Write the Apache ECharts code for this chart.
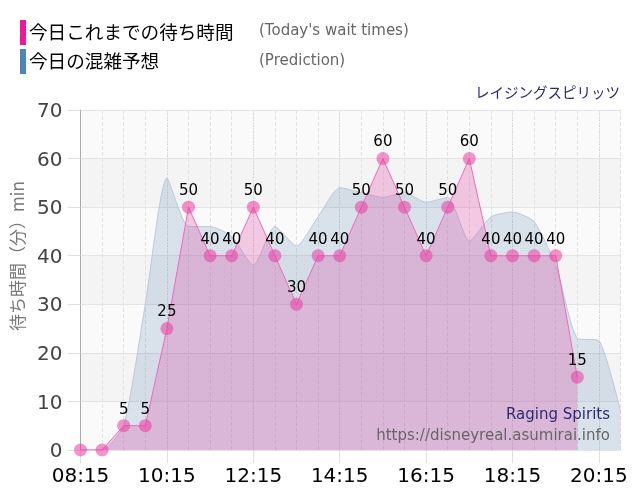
<!DOCTYPE html>
<html>
<head>
<meta charset="utf-8">
<title>待ち時間</title>
<script src="https://cdn.jsdelivr.net/npm/echarts@6/dist/echarts.min.js"></script>
<style>
html,body{margin:0;padding:0;background:#fff;}
#chart{width:640px;height:500px;}
</style>
</head>
<body>
<div id="chart"></div>
<script>
var times = ['08:15','08:45','09:15','09:45','10:15','10:45','11:15','11:45','12:15','12:45','13:15','13:45','14:15','14:45','15:15','15:45','16:15','16:45','17:15','17:45','18:15','18:45','19:15','19:45','20:15','20:45'];
var waitTimes = [0,0,5,5,25,50,40,40,50,40,30,40,40,50,60,50,40,50,60,40,40,40,40,15];
var prediction = [0,0,5,30,56,46,46,44,38,46,42,48,54,53,52,53,51,52,43,48,49,47,38,23,22.5,8];

var chart = echarts.init(document.getElementById('chart'));
var jp = '"Noto Sans CJK JP"';
var dejavu = '"DejaVu Sans"';

function everyFourth(i){ return i % 4 === 0; }

// 予想エリアの細かい点模様
function dotPattern(){
    var c = document.createElement('canvas');
    c.width = 4; c.height = 4;
    var ctx = c.getContext('2d');
    ctx.fillStyle = 'rgba(60,110,160,0.17)';
    ctx.fillRect(0,0,4,4);
    ctx.fillStyle = 'rgba(60,110,160,0.07)';
    ctx.fillRect(0,0,1,1);
    ctx.fillRect(2,2,1,1);
    return c;
}

var option = {
    animation:false,
    grid:{left:80.5,right:19.5,top:110,bottom:50},
    graphic:[
        {type:'rect',shape:{x:20,y:20,width:6,height:25},style:{fill:'#f0189a'}},
        {type:'rect',shape:{x:20,y:49,width:6,height:25},style:{fill:'#4a86b8'}},
        {type:'text',x:29,y:32,style:{text:'今日これまでの待ち時間',font:'18.6px '+jp,fill:'#000',verticalAlign:'middle'}},
        {type:'text',x:29,y:61,style:{text:'今日の混雑予想',font:'18.6px '+jp,fill:'#000',verticalAlign:'middle'}},
        {type:'text',x:259,y:31,style:{text:"(Today's wait times)",font:'15px '+dejavu,fill:'#666',verticalAlign:'middle'}},
        {type:'text',x:259,y:61,style:{text:'(Prediction)',font:'15px '+dejavu,fill:'#666',verticalAlign:'middle'}},
        {type:'text',x:620,y:92,style:{text:'レイジングスピリッツ',font:'14.5px '+jp,fill:'#2e2a72',align:'right',verticalAlign:'middle'}},
        {type:'text',x:610,y:415,z:10,style:{text:'Raging Spirits',font:'15px '+dejavu,fill:'#2e2a72',align:'right',verticalAlign:'middle'}},
        {type:'text',x:610,y:436,z:10,style:{text:'https://disneyreal.asumirai.info',font:'15px '+dejavu,fill:'#666',align:'right',verticalAlign:'middle'}}
    ],
    xAxis:[
        {
            type:'category',data:times,boundaryGap:false,
            axisLine:{show:true,onZero:false,lineStyle:{color:'#e4e4e4'}},
            axisTick:{show:true,length:13,interval:function(i){return everyFourth(i);},lineStyle:{color:'#e0e0e0'}},
            axisLabel:{interval:function(i){return everyFourth(i);},fontSize:20,fontFamily:dejavu,color:'#000',margin:17,hideOverlap:false},
            splitLine:{show:true,interval:function(i){return everyFourth(i);},lineStyle:{color:'#cdcdcd',type:'dotted'}}
        },
        {
            type:'category',data:times,boundaryGap:false,position:'bottom',
            axisLine:{show:false},axisTick:{show:false},axisLabel:{show:false},
            splitLine:{show:true,interval:0,lineStyle:{color:'#e2e2e2',type:'dashed'}}
        }
    ],
    yAxis:{
        type:'value',min:0,max:70,interval:10,
        name:'待ち時間（分）min',nameLocation:'middle',nameGap:52,
        nameTextStyle:{fontFamily:jp,fontSize:17,color:'#777',padding:[0,0,0,48]},
        axisLine:{show:true,lineStyle:{color:'#a9a9b0'}},
        axisTick:{show:true,length:13,lineStyle:{color:'#e0e0e0'}},
        axisLabel:{fontSize:20,fontFamily:dejavu,color:'#444',margin:18,verticalAlign:'top',lineHeight:4},
        splitLine:{show:true,lineStyle:{color:'#cfcfcf',type:'dotted'}},
        splitArea:{show:true,areaStyle:{color:['#fafafa','#f4f4f4']}}
    },
    series:[
        {
            name:'今日の混雑予想',type:'line',data:prediction,
            smooth:0.2,symbol:'none',z:2,
            lineStyle:{color:'#b8cad8',width:1},
            areaStyle:{color:{image:dotPattern(),repeat:'repeat'},opacity:1}
        },
        {
            name:'今日これまでの待ち時間',type:'line',data:waitTimes,
            symbol:'circle',symbolSize:13,z:3,
            lineStyle:{color:'#f06ab8',width:1},
            itemStyle:{color:'rgba(235,60,160,0.55)'},
            areaStyle:{color:'rgba(227,73,170,0.28)',opacity:1},
            label:{
                show:true,position:'top',distance:2,fontSize:15,fontFamily:dejavu,color:'#000',
                formatter:function(p){ return p.value === 0 ? '' : p.value; }
            }
        }
    ]
};
chart.setOption(option);
</script>
</body>
</html>
